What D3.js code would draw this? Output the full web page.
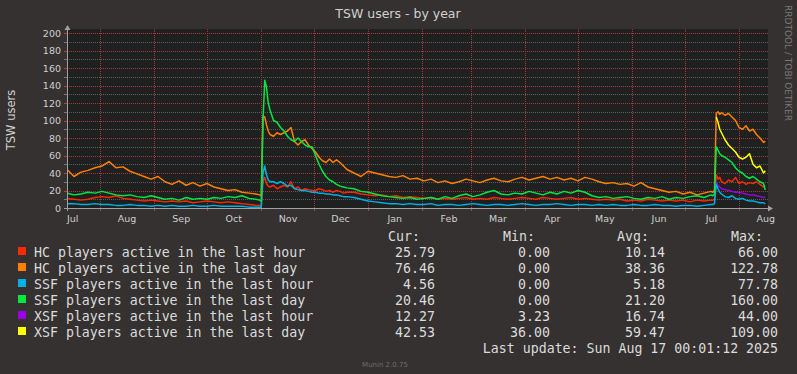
<!DOCTYPE html>
<html><head><meta charset="utf-8">
<script src="https://cdn.jsdelivr.net/npm/d3@7"></script>
<style>
html,body{margin:0;padding:0;background:#343130;}
svg{display:block;}
</style>
</head><body>
<svg id="chart" width="797" height="374"></svg>
<script>
// ---------- DATA ----------
// day offsets from the start of the 400-day window (Jul 13 2024 -> Aug 17 2025)
const days = [
  0,4,8,12,16,20,24,28,32,36,40,44,48,52,56,60,64,68,72,76,80,84,88,92,96,100,104,108,
  110,111,112,113,114,115,116,118,120,122,124,126,128,130,132,134,136,138,140,142,144,146,148,150,152,154,156,158,160,
  164,168,172,176,180,184,188,192,196,200,204,208,212,216,220,224,228,232,236,240,244,248,252,256,260,264,268,272,276,280,
  284,288,292,296,300,304,308,312,316,320,324,328,332,336,340,344,348,352,356,360,364,368,
  369,370,371,372,373,374,376,378,380,382,384,386,388,390,392,394,396,398,399
];
const xsfDays = [371,372,373,374,376,378,380,382,384,386,388,390,392,394,396,398,399];

const hcHour = [
  11,10,9,10,12,13,12,14,11,10, 9,8,9,8,7,8,7,8,6,7, 8,7,6,7,6,5,4,3,
  3,3,30,35,28,25,24,26,22,24, 26,24,30,22,24,20,22,21,20,20, 22,21,19,20,18,20,19,17,18,
  18,16,15,14,15,13,14,12,13,12, 11,12,10,11,10,11,12,10,11,10, 12,11,10,11,12,11,10,12,11,10,
  11,12,10,11,10,9,10,9,10,8, 9,8,10,9,8,9,8,9,7,9, 8,9,
  9,10,38,33,35,30,28,32,30,35,28,30,27,29,28,30,27,24,25.8
];
const hcDay = [
  44,36,41,43,46,48,53,46,47,42, 39,36,33,36,30,27,31,26,29,25, 28,24,22,20,21,18,17,16,
  15,14,105,104,95,88,84,82,86,84, 86,88,92,76,72,76,78,72,68,64, 58,54,52,56,52,55,52,48,44,
  40,36,42,40,38,36,35,37,33,34, 31,33,29,31,28,30,33,31,29,32, 34,31,30,33,35,32,34,36,33,35,
  32,34,31,35,33,30,28,29,27,28, 25,29,24,22,20,18,19,16,18,15, 17,19,
  18,20,108,110,107,109,106,108,104,100,92,90,94,88,90,84,80,75,76.5
];
const ssfHour = [
  5,5,4,4,5,4,4,3,3,4, 3,3,2,3,2,3,2,2,3,2, 2,3,2,2,2,2,1,1,
  1,1,40,48,38,32,30,30,28,30, 28,25,26,22,21,20,20,19,18,18, 17,17,16,16,15,15,14,13,13,
  12,10,8,7,6,5,5,4,5,4, 4,5,3,4,4,3,4,5,4,3, 4,4,3,4,5,4,3,4,4,5,
  4,3,4,4,3,4,3,4,3,3, 4,3,3,4,3,3,2,3,3,2, 3,4,
  4,5,28,22,18,16,13,12,14,11,10,11,9,8,8,7,6,6,4.6
];
const ssfDay = [
  17,15,16,18,17,19,17,15,14,15, 13,12,14,12,10,11,9,12,10,11, 10,12,11,13,12,14,11,10,
  9,8,100,146,138,120,112,100,98,92, 88,82,78,76,80,76,72,70,70,60, 50,42,36,32,30,27,25,24,23,
  22,19,18,16,14,13,12,11,12,10, 11,12,10,13,11,14,16,13,15,18, 20,16,15,17,16,19,17,15,18,16,
  19,17,20,18,14,12,13,11,12,13, 11,10,12,11,13,10,12,11,13,14, 12,15,
  14,16,70,66,62,60,58,55,52,46,42,40,36,34,36,33,30,28,20.5
];
const xsfHour = [30,26,24,22,21,20,19,18,18,17,16,15,15,14,13,12,12.3];
const xsfDay  = [104,98,90,86,78,72,68,64,58,56,58,62,50,46,48,40,42.5];

const legendNames = [
  "HC players active in the last hour",
  "HC players active in the last day",
  "SSF players active in the last hour",
  "SSF players active in the last day",
  "XSF players active in the last hour",
  "XSF players active in the last day"
];
const curVals = [25.79, 76.46, 4.56, 20.46, 12.27, 42.53];
const minVals = [0.00, 0.00, 0.00, 0.00, 3.23, 36.00];
const avgVals = [10.14, 38.36, 5.18, 21.20, 16.74, 59.47];
const maxVals = [66.00, 122.78, 77.78, 160.00, 44.00, 109.00];
const columnHeads = ["Cur:", "Min:", "Avg:", "Max:"];
const yTickValues = [0,20,40,60,80,100,120,140,160,180,200];
const titleText = "TSW users - by year";
const yLabelText = "TSW users";
const lastUpdate = "Last update: Sun Aug 17 00:01:12 2025";

// ---------- STYLE ----------
const colors = ["#f72a00", "#ff8000", "#00b0e6", "#00e844", "#9b00e8", "#ffff00"];
const W = 797, H = 374;
const plot = {left: 67, right: 767, top: 33, bottom: 208};

const startMs = Date.UTC(2024, 6, 13, 0, 1, 12);
const endMs = startMs + 400 * 864e5;
const toDate = d => new Date(startMs + d * 864e5);

const svg = d3.select("#chart");
svg.append("rect").attr("width", W).attr("height", H).attr("fill", "#343130");

const x = d3.scaleUtc().domain([new Date(startMs), new Date(endMs)]).range([plot.left, plot.right]);
const y = d3.scaleLinear().domain([0, 200]).range([plot.bottom, plot.top]);

// plot background
svg.append("rect")
  .attr("x", plot.left).attr("y", plot.top - 4)
  .attr("width", plot.right - plot.left + 1).attr("height", plot.bottom - plot.top + 4)
  .attr("fill", "#1f2020");

const grid = svg.append("g").attr("shape-rendering", "crispEdges");
// minor horizontal
d3.range(10, 200, 20).forEach(v => {
  grid.append("line").attr("x1", plot.left).attr("x2", plot.right + 1)
    .attr("y1", Math.round(y(v)) + 0.5).attr("y2", Math.round(y(v)) + 0.5)
    .attr("stroke", "#5c5c5c").attr("stroke-dasharray", "1,1");
});
// major horizontal
yTickValues.filter(v => v > 0).forEach(v => {
  grid.append("line").attr("x1", plot.left).attr("x2", plot.right + 1)
    .attr("y1", Math.round(y(v)) + 0.5).attr("y2", Math.round(y(v)) + 0.5)
    .attr("stroke", "#a8363a").attr("stroke-dasharray", "1,1");
});
// vertical month lines
const months = d3.utcMonth.range(new Date(startMs), new Date(endMs));
months.forEach(m => {
  const xx = Math.round(x(m)) + 0.5;
  grid.append("line").attr("x1", xx).attr("x2", xx)
    .attr("y1", plot.top - 4).attr("y2", plot.bottom)
    .attr("stroke", "#a8363a").attr("stroke-dasharray", "1,1");
  grid.append("line").attr("x1", xx).attr("x2", xx)
    .attr("y1", plot.bottom).attr("y2", plot.bottom + 3)
    .attr("stroke", "#b04040");
});
// y ticks on axis
d3.range(0, 201, 10).forEach(v => {
  grid.append("line").attr("x1", plot.left - 3).attr("x2", plot.left)
    .attr("y1", Math.round(y(v)) + 0.5).attr("y2", Math.round(y(v)) + 0.5)
    .attr("stroke", v % 20 === 0 ? "#b04040" : "#777");
});

// series lines
svg.append("clipPath").attr("id", "clipP").append("rect")
  .attr("x", plot.left).attr("y", plot.top - 6)
  .attr("width", plot.right - plot.left + 1).attr("height", plot.bottom - plot.top + 6);

const seriesList = [
  {vals: hcHour, d: days}, {vals: hcDay, d: days}, {vals: ssfHour, d: days},
  {vals: ssfDay, d: days}, {vals: xsfHour, d: xsfDays}, {vals: xsfDay, d: xsfDays}
];
const lineGen = d3.line()
  .defined(p => p[1] != null)
  .x(p => x(toDate(p[0])))
  .y(p => y(p[1]));
const lg = svg.append("g").attr("clip-path", "url(#clipP)");
seriesList.forEach((s, i) => {
  lg.append("path")
    .datum(s.d.map((dd, k) => [dd, s.vals[k]]))
    .attr("fill", "none").attr("stroke", colors[i])
    .attr("stroke-width", 1.5).attr("stroke-linejoin", "round")
    .attr("d", lineGen);
});

// axes lines + arrows
svg.append("line").attr("x1", plot.left + 0.5).attr("x2", plot.left + 0.5)
  .attr("y1", plot.top - 4).attr("y2", plot.bottom + 3)
  .attr("stroke", "#a0a0a0").attr("shape-rendering", "crispEdges");
svg.append("line").attr("x1", plot.left - 3).attr("x2", plot.right + 2)
  .attr("y1", plot.bottom + 0.5).attr("y2", plot.bottom + 0.5)
  .attr("stroke", "#a0a0a0").attr("shape-rendering", "crispEdges");
svg.append("path")
  .attr("d", `M${plot.left - 2.5},${plot.top - 3} L${plot.left + 0.5},${plot.top - 8} L${plot.left + 3.5},${plot.top - 3} Z`)
  .attr("fill", "#a0a0a0");
svg.append("path")
  .attr("d", `M${plot.right + 1},${plot.bottom - 2.5} L${plot.right + 6},${plot.bottom + 0.5} L${plot.right + 1},${plot.bottom + 3.5} Z`)
  .attr("fill", "#a0a0a0");

// y axis labels
const yAxis = d3.axisLeft(y).tickValues(yTickValues).tickSize(0).tickPadding(6);
const yg = svg.append("g").attr("transform", `translate(${plot.left},0)`).call(yAxis);
yg.select(".domain").remove();
yg.selectAll("text").attr("fill", "#cfcfcf").style("font-family", "DejaVu Sans").style("font-size", "9.5px");

// x axis labels at mid-month
const labelDates = d3.utcMonth.range(d3.utcMonth.floor(new Date(startMs)), new Date(endMs))
  .map(m => d3.utcDay.offset(m, 15))
  .filter(d => d >= new Date(startMs) && d <= new Date(endMs));
const xAxis = d3.axisBottom(x).tickValues(labelDates).tickSize(0).tickPadding(7)
  .tickFormat(d3.utcFormat("%b"));
const xg = svg.append("g").attr("transform", `translate(0,${plot.bottom})`).call(xAxis);
xg.select(".domain").remove();
xg.selectAll("text").attr("fill", "#cfcfcf").style("font-family", "DejaVu Sans").style("font-size", "9.5px");

// title and labels
svg.append("text").attr("x", 398).attr("y", 18).attr("text-anchor", "middle")
  .attr("fill", "#d0d0d0").style("font-family", "DejaVu Sans").style("font-size", "12.5px")
  .text(titleText);
svg.append("text").attr("transform", "translate(15,120) rotate(-90)").attr("text-anchor", "middle")
  .attr("fill", "#d0d0d0").style("font-family", "DejaVu Sans").style("font-size", "11.5px")
  .text(yLabelText);
svg.append("text").attr("transform", "translate(785,5) rotate(90)").attr("text-anchor", "start")
  .attr("fill", "#7a7a7a").style("font-family", "DejaVu Sans").style("font-size", "9px")
  .text("RRDTOOL / TOBI OETIKER");
svg.append("text").attr("x", 385).attr("y", 367).attr("text-anchor", "middle")
  .attr("fill", "#6e6e6e").style("font-family", "DejaVu Sans").style("font-size", "7px")
  .text("Munin 2.0.75");

// legend
const lgd = svg.append("g").style("font-family", "DejaVu Sans Mono").style("font-size", "13.25px").attr("fill", "#dcdcdc");
const headX = [388, 503, 617, 731];
const valX = [435, 550, 665, 778];
columnHeads.forEach((h, i) => {
  lgd.append("text").attr("x", headX[i]).attr("y", 240.5).text(h);
});
const cols = [curVals, minVals, avgVals, maxVals];
legendNames.forEach((n, i) => {
  const by = 256.5 + 16 * i;
  lgd.append("rect").attr("x", 18).attr("y", by - 9.5).attr("width", 8).attr("height", 8).attr("fill", colors[i]);
  lgd.append("text").attr("x", 34).attr("y", by).text(n);
  cols.forEach((c, j) => {
    lgd.append("text").attr("x", valX[j]).attr("y", by).attr("text-anchor", "end").text(c[i].toFixed(2));
  });
});
lgd.append("text").attr("x", 778).attr("y", 352.5).attr("text-anchor", "end").text(lastUpdate);
</script>
</body></html>
